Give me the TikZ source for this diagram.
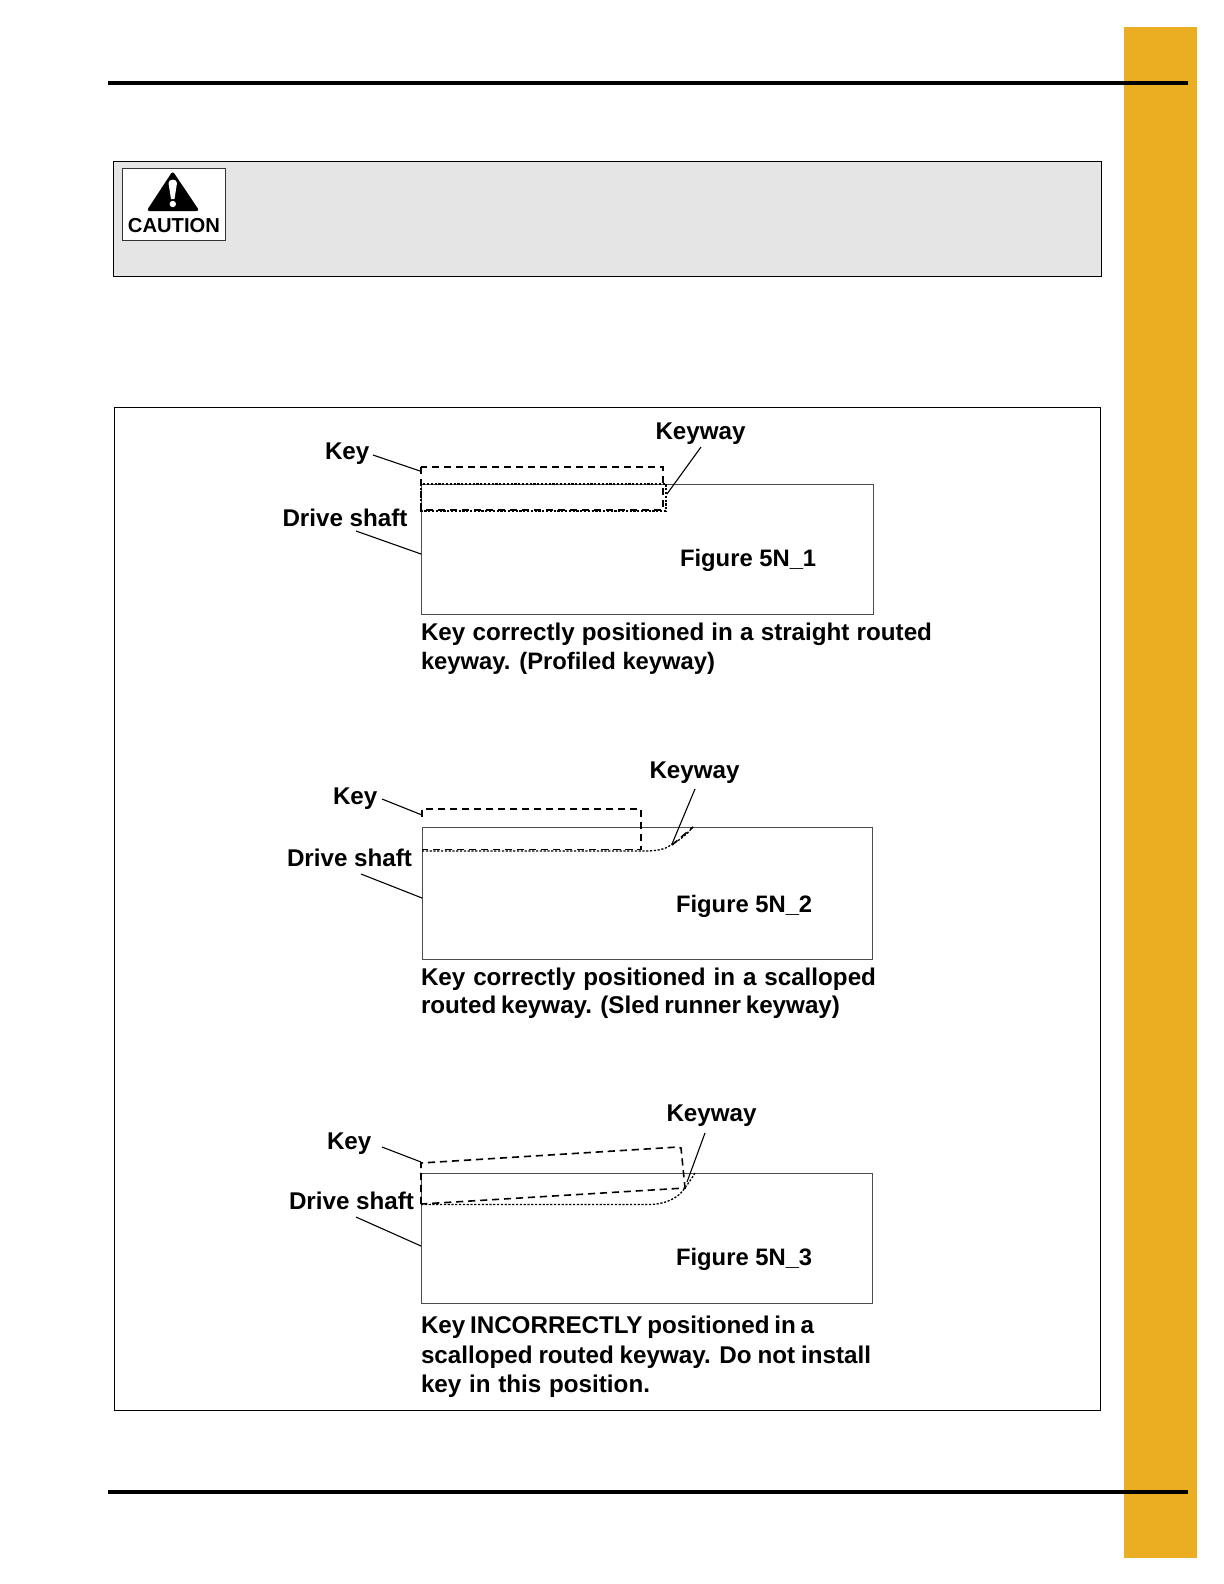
\documentclass[tikz,border=0pt]{standalone}
\usepackage{fontspec}
\setmainfont{Liberation Sans}
\definecolor{gold}{HTML}{EBAE22}
\definecolor{panel}{HTML}{E5E5E5}
\tikzset{
  lbl/.style={anchor=base west,inner sep=0pt,outer sep=0pt,font=\fontsize{12.1bp}{14bp}\bfseries\selectfont},
  figl/.style={anchor=base west,inner sep=0pt,outer sep=0pt,font=\fontsize{11.9bp}{14bp}\bfseries\selectfont},
  rule/.style={line width=2bp,black},
  frame/.style={draw=black,line width=0.35bp},
  shaft/.style={draw=black!70,line width=0.45bp},
  leader/.style={draw=black,line width=0.55bp},
  keydash/.style={draw=black,line width=0.8bp,dash pattern=on 3.6bp off 2.4bp},
  keydot/.style={draw=black,line width=0.65bp,dash pattern=on 1.1bp off 0.8bp},
}
\newcommand{\capl}[2]{\makebox[#1bp][s]{#2}}
\begin{document}
\begin{tikzpicture}[x=0.5bp,y=-0.5bp]
\useasboundingbox (0,0) rectangle (1224,1584);
% side bar and rules
\fill[gold] (1124,27) rectangle (1197,1558);
\draw[rule] (108,83) -- (1188,83);
\draw[rule] (108,1492) -- (1188,1492);
% caution panel
\draw[frame,fill=panel] (113,161.5) rectangle (1101,276);
\draw[draw=black!80,fill=white,line width=0.45bp] (122,168) rectangle (225,240);
\fill[black,rounded corners=1.5bp] (172.7,171) -- (199.5,211) -- (146.5,211) -- cycle;
\fill[white] (168.5,183) .. controls (168.5,178.5) and (177,178.5) .. (177,183) -- (174.5,199) -- (171,199) -- cycle;
\fill[white] (172.8,204) circle[radius=3.2];
\node[anchor=base,inner sep=0pt,font=\fontsize{10.1bp}{12bp}\bfseries\selectfont] (caution) at (174,232) {CAUTION};
% outer frame
\draw[frame] (114,407) rectangle (1100,1410);

% ---------- Figure 1
\draw[shaft] (421,484) rectangle (873,614);
\draw[keydash] (421,467) rectangle (663,510);
\draw[keydot] (421,484) rectangle (666,511);
\node[lbl] (k1) at (325,459) {Key};
\node[lbl] (w1) at (655.5,439) {Keyway};
\node[lbl] (d1) at (282.5,526) {Drive shaft};
\node[figl] (f1) at (680,566) {Figure 5N\_1};
\node[lbl] (c1a) at (421,640) {\capl{255.5}{Key correctly positioned in a straight routed}};
\node[figl] (c1b) at (421,669) {keyway. (Profiled keyway)};
\coordinate (k1e) at (420,471); \coordinate (k1s) at (373,455);
\coordinate (w1e) at (667,494); \coordinate (w1s) at (701,447);
\coordinate (d1e) at (421,554); \coordinate (d1s) at (356,531);
\draw[leader] (k1s) -- (k1e);
\draw[leader] (w1s) -- (w1e);
\draw[leader] (d1s) -- (d1e);

% ---------- Figure 2
\draw[shaft] (422,827) rectangle (872,959);
\draw[keydash] (422,817) |- (641,809) -- (641,849.5) -- (422,849.5);
\draw[keydot] (422,851) -- (645,851) .. controls (660,851) and (668,848) .. (672,844) .. controls (680,840) and (686,835) .. (693,827);
\draw[keydash] (672,845) -- (693,827);
\node[lbl] (k2) at (333,804) {Key};
\node[lbl] (w2) at (649.5,778) {Keyway};
\node[lbl] (d2) at (287,866) {Drive shaft};
\node[figl] (f2) at (676,912) {Figure 5N\_2};
\node[lbl] (c2a) at (421,985) {\capl{227.5}{Key correctly positioned in a scalloped}};
\node[lbl] (c2b) at (421,1013) {\capl{209.5}{routed keyway. (Sled runner keyway)}};
\coordinate (k2e) at (422,815); \coordinate (k2s) at (382,799);
\coordinate (w2e) at (672,844); \coordinate (w2s) at (695,789);
\coordinate (d2e) at (422,898); \coordinate (d2s) at (361,874);
\draw[leader] (k2s) -- (k2e);
\draw[leader] (w2s) -- (w2e);
\draw[leader] (d2s) -- (d2e);

% ---------- Figure 3
\draw[shaft] (421,1173) rectangle (872,1303);
\draw[keydash] (421,1204) -- (421,1163) -- (678,1147) -- (681,1148) -- (685,1188) -- cycle;
\draw[keydot] (421,1204.5) -- (650,1204.5) .. controls (668,1204) and (680,1196) .. (684,1189) .. controls (688,1184) and (692,1178) .. (695,1173);
\node[lbl] (k3) at (327,1149) {Key};
\node[lbl] (w3) at (666.5,1121) {Keyway};
\node[lbl] (d3) at (289,1209) {Drive shaft};
\node[figl] (f3) at (676,1265) {Figure 5N\_3};
\node[lbl] (c3a) at (421,1333) {\capl{196.5}{Key INCORRECTLY positioned in a}};
\node[lbl] (c3b) at (421,1363) {\capl{225}{scalloped routed keyway. Do not install}};
\node[lbl] (c3c) at (421,1392) {\capl{114.5}{key in this position.}};
\coordinate (k3e) at (421,1162); \coordinate (k3s) at (382,1147);
\coordinate (w3e) at (687,1182); \coordinate (w3s) at (705,1133);
\coordinate (d3e) at (421,1246); \coordinate (d3s) at (356,1217);
\draw[leader] (k3s) -- (k3e);
\draw[leader] (w3s) -- (w3e);
\draw[leader] (d3s) -- (d3e);
\end{tikzpicture}
\end{document}
